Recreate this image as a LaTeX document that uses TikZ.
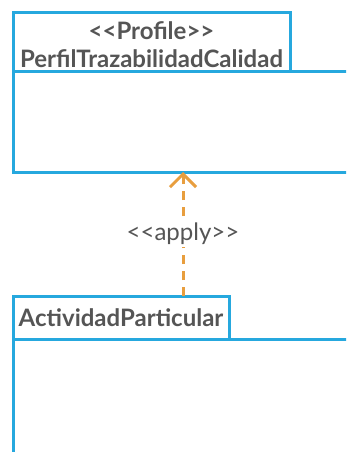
\documentclass[tikz,border=0pt]{standalone}
\usepackage{fontspec}
\setmainfont{Lato}
\usetikzlibrary{arrows.meta,positioning}
\definecolor{azul}{RGB}{38,168,222}
\definecolor{naranja}{RGB}{232,158,62}
\definecolor{gris}{RGB}{85,85,85}
\tikzset{
  pestana/.style={draw=azul,line width=3pt,fill=white,inner sep=0pt,outer sep=0pt,align=center,
                  text=gris,font=\bfseries\fontsize{24}{28}\selectfont},
  cuerpo/.style={draw=azul,line width=3pt,fill=white,inner sep=0pt,outer sep=0pt},
  aplica/.style={-{Straight Barb[length=13pt,width=26pt]},draw=naranja,line width=3pt,
                 dash pattern=on 9pt off 7pt},
  estereo/.style={fill=white,text=gris,font=\fontsize{24}{28}\selectfont,inner sep=2pt},
}
\begin{document}
\begin{tikzpicture}[x=1pt,y=-1pt]
  \fill[white] (0,0) rectangle (346,452);
  \clip (0,0) rectangle (346,452);
  % perfil
  \node[pestana,anchor=north west,minimum width=277pt,minimum height=58pt] (pestanaA) at (13,13)
    {\rule{0pt}{23pt}<{}<Profile>{}>\\PerfilTrazabilidadCalidad};
  \node[cuerpo,anchor=north west,minimum width=340pt,minimum height=101pt] (cuerpoA)
    at (pestanaA.south west) {};
  % actividad
  \node[pestana,anchor=north west,minimum width=216pt,minimum height=43pt] (pestanaB) at (13,296)
    {ActividadParticular};
  \node[cuerpo,anchor=north west,minimum width=340pt,minimum height=150pt] (cuerpoB)
    at (pestanaB.south west) {};
  % apply
  \draw[aplica] (pestanaB.north -| cuerpoA.south) -- node[estereo] {<{}<apply>{}>} (cuerpoA.south);
\end{tikzpicture}
\end{document}
